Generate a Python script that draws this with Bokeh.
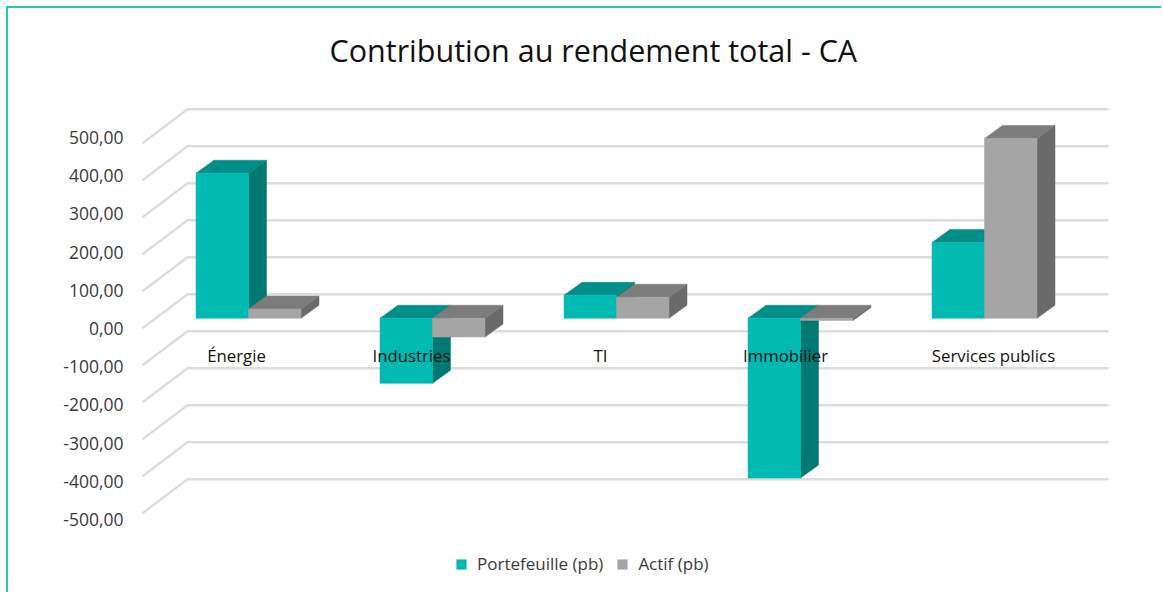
from bokeh.embed import file_html
from bokeh.resources import INLINE
from bokeh.plotting import figure
from bokeh.models import Range1d, LinearAxis, FixedTicker, Legend, LegendItem
from bokeh.core.properties import value

# ---- data ----
categories = ["Énergie", "Industries", "TI", "Immobilier", "Services publics"]
portefeuille = [392, -176, 62, -432, 205]
actif = [25, -51, 57, -6, 486]
y_ticks = [-500, -400, -300, -200, -100, 0, 100, 200, 300, 400, 500]
y_tick_labels = ["-500,00", "-400,00", "-300,00", "-200,00", "-100,00", "0,00",
                 "100,00", "200,00", "300,00", "400,00", "500,00"]
legend_labels = ["Portefeuille (pb)", "Actif (pb)"]
title_text = "Contribution au rendement total - CA"

# ---- layout constants (page pixels) ----
FIG_X, FIG_Y, W, H = 8, 8, 1155, 586
TITLE_H = 70
FRAME_T = FIG_Y + TITLE_H
FRAME_L = 130
FRAME_R = FIG_X + W
FRAME_B = FIG_Y + H
PX_X = 184.0      # pixels per category
PX_Y = 0.37       # pixels per unit of value on the bars' scale
X0, Y0 = 249.0, 318.0   # page pixel of category 0 centre / zero line
NUDGE_X, NUDGE_Y = 1.0, 0.25
BAR_W = 52.5 / PX_X
DX, DY = 18 / PX_X, 13 / PX_Y

def xd(px):
    return (px - X0) / PX_X

def yd(py):
    return (Y0 - py) / PX_Y

TEAL = dict(front="#00b9b1", top="#008f88", side="#007973")
GREY = dict(front="#a5a5a5", top="#7c7c7c", side="#6a6a6a")
GRID = "#dcdcdc"
TEXT = "#3a3a3a"
FONT = "Open Sans"

p = figure(width=W, height=H, output_backend="svg", toolbar_location=None,
           margin=(FIG_Y, 0, 0, FIG_X),
           x_range=Range1d(xd(FRAME_L + NUDGE_X), xd(FRAME_R + NUDGE_X)),
           y_range=Range1d(yd(FRAME_B + NUDGE_Y), yd(FRAME_T + NUDGE_Y)),
           min_border_left=FRAME_L - FIG_X, min_border_right=0,
           min_border_top=TITLE_H, min_border_bottom=0,
           x_axis_location=None, y_axis_location=None)
p.grid.visible = False
p.outline_line_color = None
p.styles = {"box-shadow": "-2px -2px 0 0 #2cc2b8"}

# title
p.title.text = title_text
p.title.text_font = FONT
p.title.text_font_size = "30.5px"
p.title.text_font_style = "normal"
p.title.text_color = "#111111"
p.title.align = "left"
p.title.offset = 199
p.title.standoff = 15

# y axis with its own label spacing
p.extra_y_ranges = {"labels": Range1d((328 - FRAME_B) / 0.382, (328 - FRAME_T) / 0.382)}
ax = LinearAxis(y_range_name="labels", ticker=FixedTicker(ticks=y_ticks),
                major_label_overrides=dict(zip(y_ticks, y_tick_labels)))
ax.axis_line_color = None
ax.major_tick_line_color = None
ax.minor_tick_line_color = None
ax.major_tick_out = 0
ax.major_label_text_font = FONT
ax.major_label_text_font_size = "17.5px"
ax.major_label_text_color = TEXT
ax.major_label_standoff = 7
p.add_layout(ax, "left")

# walls: gridlines of the back plane with their slanted floor returns
x_f, x_b, x_r = xd(143), xd(188), xd(1109)
back = (318 - 294) / PX_Y
slant = 34 / PX_Y
p.multi_line(xs=[[x_f, x_b, x_r] for _ in y_ticks],
             ys=[[v + back - slant, v + back, v + back] for v in y_ticks],
             line_color=GRID, line_width=2.4)

def bars(values, off, col):
    xl = [i + off for i in range(len(values))]
    xr = [x + BAR_W for x in xl]
    top = [max(v, 0) for v in values]
    bot = [min(v, 0) for v in values]
    p.patches(xs=[[a, a + DX, a + DX, a] for a in xr],
              ys=[[t, t + DY, b + DY, b] for t, b in zip(top, bot)],
              fill_color=col["side"], line_color=col["side"], line_width=0.5)
    p.patches(xs=[[a, b, b + DX, a + DX] for a, b in zip(xl, xr)],
              ys=[[t, t, t + DY, t + DY] for t in top],
              fill_color=col["top"], line_color=col["top"], line_width=0.5)
    return p.quad(left=xl, right=xr, top=top, bottom=bot,
                  fill_color=col["front"], line_color=col["front"], line_width=0.5)

r1 = bars(portefeuille, -BAR_W, TEAL)
r2 = bars(actif, 0, GREY)

# category labels sit inside the plot, under the zero line
label_px = [237, 412, 601, 786, 994]
p.text(x=[xd(v) for v in label_px], y=[yd(355)] * len(categories), text=categories,
       text_font=value(FONT), text_font_size="16.8px", text_color="#111111",
       text_align="center", text_baseline="middle")

legend = Legend(items=[LegendItem(label=legend_labels[0], renderers=[r1]),
                       LegendItem(label=legend_labels[1], renderers=[r2])],
                orientation="horizontal", location=(465 - FRAME_L - 10, 19),
                border_line_color=None, background_fill_alpha=0,
                label_text_font=FONT, label_text_font_size="17px", label_text_color=TEXT,
                glyph_width=12, glyph_height=12, spacing=13, label_standoff=10,
                padding=10, margin=0)
p.add_layout(legend, "center")

open("out.html", "w").write(file_html(p, INLINE))
